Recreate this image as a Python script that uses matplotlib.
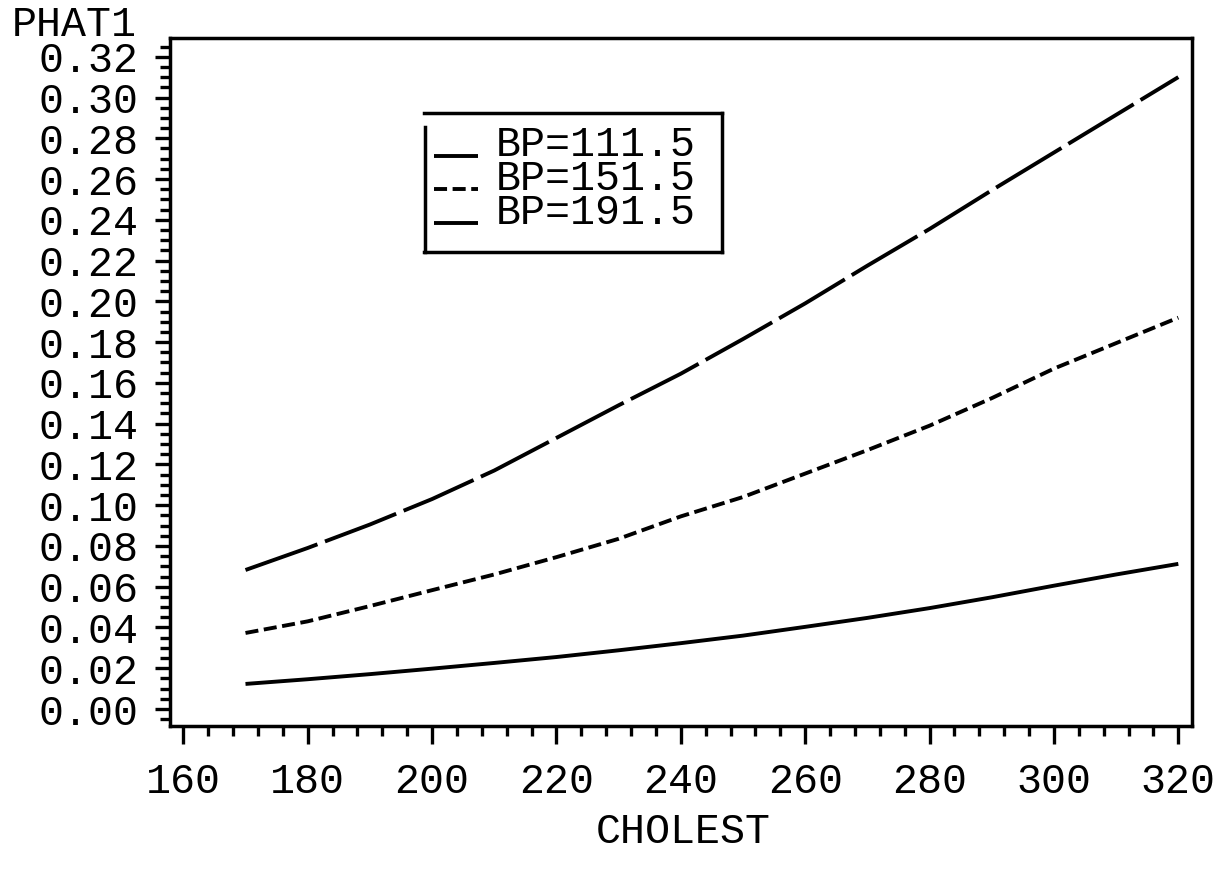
import matplotlib
matplotlib.use("Agg")
import matplotlib.pyplot as plt
from matplotlib.lines import Line2D
from matplotlib.ticker import MultipleLocator, FormatStrFormatter

# ---- data ----
cholest = [170, 180, 190, 200, 210, 220, 230, 240, 250, 260, 270, 280, 290, 300, 310, 320]
phat_bp111 = [0.0123, 0.0146, 0.0171, 0.0198, 0.0226, 0.0255, 0.0288, 0.0323,
              0.0360, 0.0403, 0.0447, 0.0495, 0.0548, 0.0605, 0.0660, 0.0712]
phat_bp151 = [0.0373, 0.0430, 0.0505, 0.0583, 0.0660, 0.0745, 0.0835, 0.0945,
              0.1040, 0.1155, 0.1270, 0.1390, 0.1525, 0.1670, 0.1795, 0.1920]
phat_bp191 = [0.0682, 0.0790, 0.0905, 0.1030, 0.1170, 0.1330, 0.1490, 0.1645,
              0.1815, 0.1990, 0.2175, 0.2355, 0.2545, 0.2730, 0.2915, 0.3100]
labels = ["BP=111.5", "BP=151.5", "BP=191.5"]
x_label = "CHOLEST"
y_label = "PHAT1"

plt.rcParams['font.family'] = ['Liberation Mono', 'DejaVu Sans Mono']
plt.rcParams['lines.scale_dashes'] = False

W, H = 1216, 872
fig = plt.figure(figsize=(W / 100, H / 100), dpi=100)
L, R, T, B = 170, 1192, 38, 726
ax = fig.add_axes([L / W, (H - B) / H, (R - L) / W, (B - T) / H])

LW = 2.8
styles = [dict(linestyle='-'),
          dict(dashes=(9.4, 4.0)),
          dict(dashes=(55, 5.8))]
series = [phat_bp111, phat_bp151, phat_bp191]
for ys, st in zip(series, styles):
    ax.plot(cholest, ys, color='black', lw=LW, solid_capstyle='butt',
            dash_capstyle='butt', **st)

ax.set_xlim(157.86, 322.2)
ax.set_ylim(-0.00834, 0.3292)

ax.xaxis.set_major_locator(MultipleLocator(20))
ax.xaxis.set_minor_locator(MultipleLocator(4))
ax.yaxis.set_major_locator(MultipleLocator(0.02))
ax.yaxis.set_minor_locator(MultipleLocator(0.005))
ax.yaxis.set_major_formatter(FormatStrFormatter('%.2f'))
ax.xaxis.set_major_formatter(FormatStrFormatter('%d'))

for s in ax.spines.values():
    s.set_linewidth(2.5)

FS = 30
ax.tick_params(axis='x', which='major', direction='out', length=13, width=2.4,
               pad=13, labelsize=FS)
ax.tick_params(axis='x', which='minor', direction='out', length=7.5, width=2.4)
ax.tick_params(axis='y', which='major', direction='out', length=11, width=2.4,
               pad=12, labelsize=FS)
ax.tick_params(axis='y', which='minor', direction='out', length=7, width=2.4)

fig.text(683 / W, 1 - 832 / H, x_label, ha='center', va='center', fontsize=FS)
fig.text(12 / W, 1 - 25 / H, y_label, ha='left', va='center', fontsize=FS)

# ---- legend box drawn in figure pixel space ----
def fx(px):
    return px / W

def fy(py):
    return 1 - py / H

box_lw = 2.5
for (x0, y0, x1, y1) in [(424, 113, 722, 113), (722, 113, 722, 252),
                         (424, 252, 722, 252), (425, 127, 425, 252)]:
    fig.add_artist(Line2D([fx(x0), fx(x1)], [fy(y0), fy(y1)], color='black',
                          lw=box_lw, transform=fig.transFigure,
                          solid_capstyle='projecting'))

rows_y = [155.5, 189.5, 223.5]
for lab, st, ry in zip(labels, styles, rows_y):
    fig.add_artist(Line2D([fx(434), fx(478)], [fy(ry), fy(ry)], color='black',
                          lw=LW, transform=fig.transFigure,
                          solid_capstyle='butt', dash_capstyle='butt', **st))
    fig.text(fx(496), fy(ry), lab, ha='left', va='baseline', fontsize=FS)

fig.savefig('out.png', dpi=100, facecolor='white')
